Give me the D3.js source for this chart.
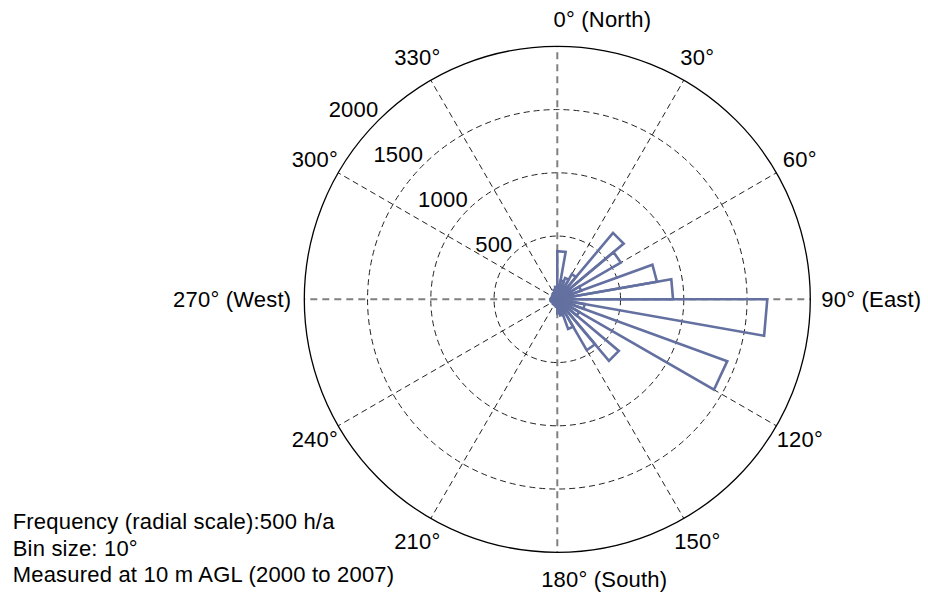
<!DOCTYPE html>
<html>
<head>
<meta charset="utf-8">
<script src="https://cdn.jsdelivr.net/npm/d3@7"></script>
<style>
  body { margin: 0; background: #fff; }
  text { font-family: "Liberation Sans", Arial, sans-serif; font-size: 22px; letter-spacing: 0.2px; fill: #000; }
</style>
</head>
<body>
<div id="rose"></div>
<script>
// wind direction bins, 10 degrees each, clockwise from north
const binStarts = d3.range(0, 360, 10);
// frequency in hours per year for each bin
const freq = [380, 150, 180, 230, 685, 580, 200, 800, 915, 1660, 220, 1430,
              200, 635, 465, 250, 130, 110, 60, 50, 45, 50, 45, 40,
              45, 50, 55, 50, 45, 40, 45, 50, 55, 60, 80, 100];
const ringValues = [500, 1000, 1500, 2000];
const angleTicks = [0, 30, 60, 90, 120, 150, 180, 210, 240, 270, 300, 330];
const tickSuffix = { 0: " (North)", 90: " (East)", 180: " (South)", 270: " (West)" };
const notes = ["Frequency (radial scale):500 h/a", "Bin size: 10°", "Measured at 10 m AGL (2000 to 2007)"];

const width = 928, height = 592;
const cx = 557.3, cy = 299.3, R = 253;

const svg = d3.select("#rose").append("svg")
  .attr("width", width)
  .attr("height", height);

const r = d3.scaleLinear().domain([0, 2000]).range([0, R]);
const ang = d3.scaleLinear().domain([0, 360]).range([0, 2 * Math.PI]);

function pt(deg, rad) {
  return [cx + rad * Math.sin(ang(deg)), cy - rad * Math.cos(ang(deg))];
}

const grid = svg.append("g");

// dashed rings
grid.selectAll(".ring")
  .data(ringValues.slice(0, -1))
  .enter().append("circle")
  .attr("cx", cx).attr("cy", cy)
  .attr("r", d => r(d))
  .attr("fill", "none")
  .attr("stroke", "#222")
  .attr("stroke-width", 1)
  .attr("stroke-dasharray", "6,4");

// spokes, the four main axes are gray and heavier
grid.selectAll(".spoke")
  .data(angleTicks)
  .enter().append("line")
  .attr("x1", cx).attr("y1", cy)
  .attr("x2", d => pt(d, R)[0])
  .attr("y2", d => pt(d, R)[1])
  .attr("stroke", d => d % 90 === 0 ? "#808080" : "#222")
  .attr("stroke-width", d => d % 90 === 0 ? 2 : 1)
  .attr("stroke-dasharray", d => d % 90 === 0 ? "7,5" : "6,4");

// outer ring (2000)
grid.append("circle")
  .attr("cx", cx).attr("cy", cy)
  .attr("r", r(ringValues[ringValues.length - 1]))
  .attr("fill", "none")
  .attr("stroke", "#000")
  .attr("stroke-width", 1.3);

// bars as open wedges
const wedge = d3.lineRadial()
  .angle(d => ang(d[0]))
  .radius(d => r(d[1]))
  .curve(d3.curveLinearClosed);

svg.append("g")
  .attr("transform", "translate(" + cx + "," + cy + ")")
  .selectAll("path")
  .data(binStarts.map((a, i) => ({ a: a, v: freq[i] })))
  .enter().append("path")
  .attr("d", d => wedge([[d.a, 0], [d.a, d.v], [d.a + 10, d.v]]))
  .attr("fill", "none")
  .attr("stroke", "#6370a0")
  .attr("stroke-width", 2.6)
  .attr("stroke-linejoin", "miter");

// radial scale labels along 315 degrees
svg.selectAll(".rlab")
  .data(ringValues)
  .enter().append("text")
  .attr("x", d => pt(315, r(d))[0])
  .attr("y", d => pt(315, r(d))[1] - 3)
  .attr("text-anchor", "end")
  .text(d => d);

// angle labels
const labR = 280;
angleTicks.forEach(a => {
  const p = pt(a, labR);
  const num = a + "°";
  const t = svg.append("text").attr("dy", "0.35em");
  if (a === 90) {
    t.attr("x", cx + R + 11).attr("y", cy).attr("text-anchor", "start").text(num + tickSuffix[a]);
  } else if (a === 270) {
    t.attr("x", cx - R - 13).attr("y", cy).attr("text-anchor", "end").text(num + tickSuffix[a]);
  } else if (tickSuffix[a]) {
    t.text(num);
    const w = t.node().getComputedTextLength();
    t.attr("x", p[0] - w / 2 + 7).attr("y", p[1]).attr("text-anchor", "start").text(num + tickSuffix[a]);
  } else {
    t.attr("x", p[0]).attr("y", p[1]).attr("text-anchor", "middle").text(num);
  }
});

// notes bottom left
svg.selectAll(".note")
  .data(notes)
  .enter().append("text")
  .attr("x", 12.7)
  .attr("y", (d, i) => 529 + i * 26.5)
  .text(d => d);
</script>
</body>
</html>
